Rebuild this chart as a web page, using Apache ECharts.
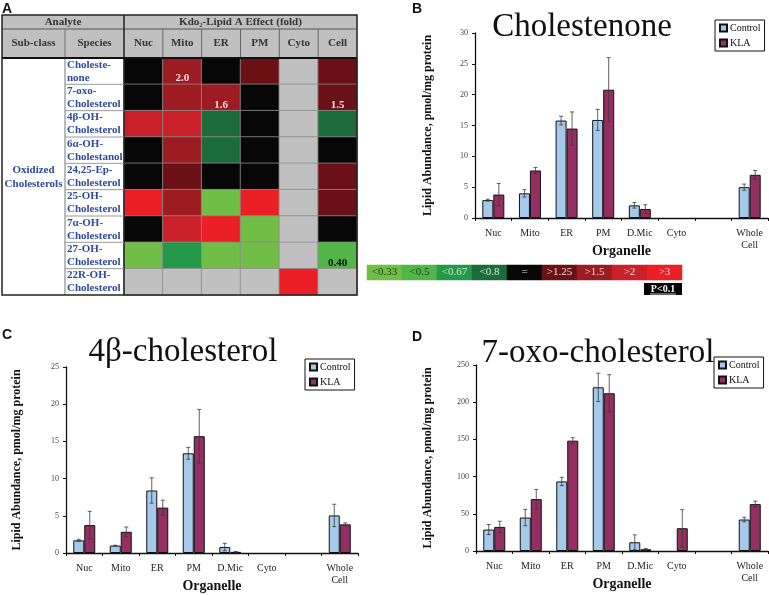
<!DOCTYPE html>
<html>
<head>
<meta charset="utf-8">
<script src="https://cdn.jsdelivr.net/npm/echarts@6/dist/echarts.min.js"></script>
<style>
  html, body { margin: 0; padding: 0; background: #fff; }
  #main { width: 769px; height: 595px; }
</style>
</head>
<body>
<div id="main"></div>
<script>
// ---- panel A: fold-change table ----
const fractions = ["Nuc", "Mito", "ER", "PM", "Cyto", "Cell"];
const species = [
  "Choleste-\nnone", "7-oxo-\nCholesterol", "4β-OH-\nCholesterol",
  "6α-OH-\nCholestanol", "24,25-Ep-\nCholesterol", "25-OH-\nCholesterol",
  "7α-OH-\nCholesterol", "27-OH-\nCholesterol", "22R-OH-\nCholesterol"
];
// fold class: -4 <0.33, -3 <0.5, -2 <0.67, -1 <0.8, 0 '=', 1 >1.25, 2 >1.5, 3 >2, 4 >3, null = n.d.
const foldClass = [
  [0, 2, 0, 1, null, 1],
  [0, 2, 2, 0, null, 1],
  [3, 3, -1, 0, null, -1],
  [0, 2, -1, 0, null, 0],
  [0, 1, 0, 0, null, 1],
  [4, 2, -4, 4, null, 1],
  [0, 3, 4, -4, null, 0],
  [-4, -2, -4, -4, null, -3],
  [null, null, null, null, 4, null]
];
// [row, col, text] significant folds printed in cells
const foldLabels = [[0, 1, "2.0"], [1, 2, "1.6"], [1, 5, "1.5"], [7, 5, "0.40"]];
const scaleClasses = [-4, -3, -2, -1, 0, 1, 2, 3, 4];
const scaleLabels = ["<0.33", "<0.5", "<0.67", "<0.8", "=", ">1.25", ">1.5", ">2", ">3"];

// ---- panels B-D: lipid abundance ----
const organelles = ["Nuc", "Mito", "ER", "PM", "D.Mic", "Cyto", "", "Whole\nCell"];
const cholestenoneControl = [2.9, 4.0, 15.8, 15.9, 2.05, null, null, 5.0];
const cholestenoneControlErr = [0.15, 0.6, 0.7, 1.7, 0.45, null, null, 0.5];
const cholestenoneKLA = [3.8, 7.7, 14.5, 20.8, 1.45, null, null, 7.0];
const cholestenoneKLAErr = [1.8, 0.5, 2.7, 5.2, 0.7, null, null, 0.7];

const oh4bControl = [1.7, 1.0, 8.4, 13.4, 0.8, null, null, 5.05];
const oh4bControlErr = [0.15, 0.05, 1.7, 0.8, 0.5, null, null, 1.5];
const oh4bKLA = [3.75, 2.85, 6.1, 15.7, 0.15, null, null, 3.85];
const oh4bKLAErr = [1.85, 0.65, 1.0, 3.6, 0.05, null, null, 0.2];

const oxo7Control = [28.8, 45, 93.5, 220, 11.7, null, null, 42.3];
const oxo7ControlErr = [6.7, 11, 5.5, 19, 10, null, null, 3];
const oxo7KLA = [32.4, 69.7, 148.3, 212, 2.3, 30.6, null, 63];
const oxo7KLAErr = [7.6, 13, 4, 25, 1, 25, null, 4];

const SERIF = "'Liberation Serif', 'DejaVu Serif', serif";
const BAR_W = 11;
const classColors = {
  "-4": "#70be45", "-3": "#52b548", "-2": "#229a4a", "-1": "#1c6c3b",
  "0": "#070707", "1": "#6b1014", "2": "#9d1c21", "3": "#c9202a", "4": "#ec1f26"
};
const NA_COLOR = "#c0c0c0";

// table geometry
const T = { left: 2, right: 357, top: 15, mid: 29, head: 58, bottom: 295, c1: 65, c2: 124 };
const rowH = (T.bottom - T.head) / species.length;

let myChart = echarts.init(document.getElementById("main"));

let heatData = [];
foldClass.forEach((row, r) => {
  row.forEach((c, k) => {
    let item = {
      value: [k, r, c == null ? 0 : c],
      itemStyle: { color: c == null ? NA_COLOR : classColors[c] },
    };
    let lab = foldLabels.find((l) => l[0] === r && l[1] === k);
    if (lab) {
      item.label = {
        show: true, formatter: lab[2], position: "insideBottom", distance: 1,
        color: c < 0 ? "#111" : "#f3dede", fontWeight: "bold", fontSize: 11, fontFamily: SERIF,
      };
    }
    heatData.push(item);
  });
});

let scaleData = scaleClasses.map((c, i) => ({
  value: [i, 0, c],
  itemStyle: { color: classColors[c] },
  label: { color: c <= -3 ? "#1e3d1c" : c < 0 ? "#d6e8d6" : "#f0d8d8" },
}));

function errorSeries(gridIdx, vals, errs, side) {
  return {
    type: "custom",
    xAxisIndex: gridIdx,
    yAxisIndex: gridIdx,
    z: 5,
    silent: true,
    encode: { x: 0, y: [1, 2] },
    data: vals
      .map((v, i) => (v == null ? null : [i, Math.max(0, v - errs[i]), v + errs[i]]))
      .filter(Boolean),
    renderItem(params, api) {
      let lo = api.coord([api.value(0), api.value(1)]);
      let hi = api.coord([api.value(0), api.value(2)]);
      let cx = lo[0] + (side * BAR_W) / 2;
      let st = { stroke: "#3a3a3a", lineWidth: 0.8 };
      return {
        type: "group",
        children: [
          { type: "line", shape: { x1: cx, y1: lo[1], x2: cx, y2: hi[1] }, style: st },
          { type: "line", shape: { x1: cx - 2, y1: hi[1], x2: cx + 2, y2: hi[1] }, style: st },
          { type: "line", shape: { x1: cx - 2, y1: lo[1], x2: cx + 2, y2: lo[1] }, style: st },
        ],
      };
    },
  };
}

function barAxes(gridIdx, max, interval, nameGap) {
  return {
    x: {
      type: "category", gridIndex: gridIdx, data: organelles,
      axisLine: { lineStyle: { color: "#111", width: 1.3 } },
      axisTick: { show: true, length: 3, lineStyle: { color: "#111" } },
      axisLabel: { interval: 0, fontSize: 10, color: "#222", fontFamily: SERIF, margin: 9, lineHeight: 12 },
      name: "Organelle", nameLocation: "middle", nameGap: 26, nameMoveOverlap: false,
      nameTextStyle: { fontSize: 14, fontWeight: "bold", fontFamily: SERIF, color: "#111" },
    },
    y: {
      type: "value", gridIndex: gridIdx, min: 0, max: max, interval: interval,
      axisLine: { show: true, lineStyle: { color: "#111", width: 1.3 } },
      axisTick: { show: true, length: 3, lineStyle: { color: "#111" } },
      splitLine: { show: false },
      axisLabel: { fontSize: 8, color: "#444", fontFamily: SERIF, margin: 7 },
      name: "Lipid Abundance, pmol/mg protein", nameLocation: "middle", nameGap: nameGap,
      nameMoveOverlap: false,
      nameTextStyle: { fontSize: 12, fontWeight: "bold", fontFamily: SERIF, color: "#111" },
    },
  };
}

function barSeries(gridIdx, ctl, ctlErr, kla, klaErr) {
  let common = { type: "bar", xAxisIndex: gridIdx, yAxisIndex: gridIdx, barWidth: BAR_W, barGap: "0%" };
  return [
    Object.assign({ name: "Control", data: ctl, itemStyle: { color: "#a5c9ea", borderColor: "#111", borderWidth: 1 } }, common),
    Object.assign({ name: "KLA", data: kla, itemStyle: { color: "#952f62", borderColor: "#111", borderWidth: 1 } }, common),
    errorSeries(gridIdx, ctl, ctlErr, -1),
    errorSeries(gridIdx, kla, klaErr, 1),
  ];
}

function boxLegend(left, top) {
  return {
    data: ["Control", "KLA"], orient: "vertical", left: left, top: top,
    icon: "rect", itemWidth: 7, itemHeight: 7, itemGap: 5,
    padding: [3, 4, 3, 4], borderColor: "#111", borderWidth: 1,
    textStyle: { fontSize: 10, fontFamily: SERIF, color: "#111", padding: [0, 0, 0, -2] },
    selectedMode: false,
  };
}

let axB = barAxes(1, 30, 5, 41),
  axC = barAxes(2, 25, 5, 43),
  axD = barAxes(3, 250, 50, 42);

let headText = { fontSize: 11, fontWeight: "bold", fontFamily: SERIF, fill: "#333", align: "center", verticalAlign: "middle" };
let rowLines = species.slice(1).map((s, i) => ({
  type: "line", z: 10,
  shape: { x1: T.c1, y1: T.head + (i + 1) * rowH, x2: T.c2, y2: T.head + (i + 1) * rowH },
  style: { stroke: "#9a9a9a", lineWidth: 1 },
}));

myChart.setOption({
  animation: false,
  textStyle: { fontFamily: SERIF },
  grid: [
    { left: T.c2, top: T.head, width: T.right - T.c2, height: T.bottom - T.head, outerBoundsMode: "none" },
    { left: 475, top: 33, width: 293, height: 185, outerBoundsMode: "none" },
    { left: 66, top: 367, width: 292, height: 186, outerBoundsMode: "none" },
    { left: 476, top: 365, width: 292, height: 186, outerBoundsMode: "none" },
    { left: 367, top: 265, width: 315, height: 15, outerBoundsMode: "none" },
  ],
  xAxis: [
    {
      type: "category", gridIndex: 0, data: fractions, position: "top",
      axisLine: { show: false }, axisTick: { show: false },
      axisLabel: { fontSize: 11, fontWeight: "bold", color: "#333", fontFamily: SERIF, margin: 9 },
    },
    axB.x, axC.x, axD.x,
    { type: "category", gridIndex: 4, data: scaleLabels, show: false },
  ],
  yAxis: [
    {
      type: "category", gridIndex: 0, data: species, inverse: true,
      axisLine: { show: false }, axisTick: { show: false },
      axisLabel: {
        align: "left", margin: T.c2 - T.c1 - 2, fontSize: 11, lineHeight: 13,
        fontWeight: "bold", color: "#2e4a9c", fontFamily: SERIF,
      },
    },
    axB.y, axC.y, axD.y,
    { type: "category", gridIndex: 4, data: [""], show: false },
  ],
  legend: [boxLegend(715, 20), boxLegend(305, 359), boxLegend(714, 357)],
  series: [
    {
      type: "heatmap", xAxisIndex: 0, yAxisIndex: 0, data: heatData,
      itemStyle: { borderColor: "#8c8c8c", borderWidth: 0.8 },
      label: { show: false }, emphasis: { disabled: true },
    },
    {
      type: "heatmap", xAxisIndex: 4, yAxisIndex: 4, data: scaleData,
      label: {
        show: true, fontSize: 11, fontFamily: SERIF,
        formatter: (p) => scaleLabels[p.dataIndex],
      },
      emphasis: { disabled: true },
    },
    ...barSeries(1, cholestenoneControl, cholestenoneControlErr, cholestenoneKLA, cholestenoneKLAErr),
    ...barSeries(2, oh4bControl, oh4bControlErr, oh4bKLA, oh4bKLAErr),
    ...barSeries(3, oxo7Control, oxo7ControlErr, oxo7KLA, oxo7KLAErr),
  ],
  graphic: [
    // table frame
    { type: "rect", z: 0, shape: { x: T.left, y: T.top, width: T.right - T.left, height: T.head - T.top }, style: { fill: "#c0c0c0" } },
    { type: "line", z: 10, shape: { x1: T.left, y1: T.mid, x2: T.right, y2: T.mid }, style: { stroke: "#555", lineWidth: 1 } },
    { type: "line", z: 10, shape: { x1: T.c1, y1: T.mid, x2: T.c1, y2: T.bottom }, style: { stroke: "#777", lineWidth: 1 } },
    { type: "line", z: 10, shape: { x1: T.c2, y1: T.top, x2: T.c2, y2: T.bottom }, style: { stroke: "#222", lineWidth: 1.5 } },
    ...fractions.slice(1).map((f, i) => {
      let x = T.c2 + ((i + 1) * (T.right - T.c2)) / fractions.length;
      return { type: "line", z: 10, shape: { x1: x, y1: T.mid, x2: x, y2: T.head }, style: { stroke: "#666", lineWidth: 1 } };
    }),
    ...rowLines,
    { type: "line", z: 10, shape: { x1: T.left, y1: T.head, x2: T.right, y2: T.head }, style: { stroke: "#111", lineWidth: 2 } },
    { type: "rect", z: 11, shape: { x: T.left, y: T.top, width: T.right - T.left, height: T.bottom - T.top }, style: { fill: null, stroke: "#222", lineWidth: 1.5 } },
    { type: "text", z: 12, x: (T.left + T.c2) / 2, y: (T.top + T.mid) / 2, style: Object.assign({ text: "Analyte" }, headText) },
    { type: "text", z: 12, x: (T.c2 + T.right) / 2, y: (T.top + T.mid) / 2, style: Object.assign({ text: "Kdo₂-Lipid A Effect (fold)" }, headText) },
    { type: "text", z: 12, x: (T.left + T.c1) / 2, y: (T.mid + T.head) / 2, style: Object.assign({ text: "Sub-class" }, headText) },
    { type: "text", z: 12, x: (T.c1 + T.c2) / 2, y: (T.mid + T.head) / 2, style: Object.assign({ text: "Species" }, headText) },
    {
      type: "text", z: 12, x: (T.left + T.c1) / 2, y: 177,
      style: { text: "Oxidized\nCholesterols", fontSize: 11, lineHeight: 14, fontWeight: "bold", fontFamily: SERIF, fill: "#2e4a9c", align: "center", verticalAlign: "middle" },
    },
    // significance key
    { type: "rect", z: 10, shape: { x: 644, y: 283, width: 38, height: 12 }, style: { fill: "#000" } },
    { type: "text", z: 12, x: 663, y: 289, style: { text: "P<0.1", fontSize: 10, fontWeight: "bold", fontFamily: SERIF, fill: "#fff", align: "center", verticalAlign: "middle" } },
    { type: "line", z: 12, shape: { x1: 650, y1: 294, x2: 676, y2: 294 }, style: { stroke: "#fff", lineWidth: 0.8 } },
    // panel letters
    { type: "text", x: 2, y: 2, style: { text: "A", fontSize: 14, fontWeight: "bold", fontFamily: "Arial, 'Liberation Sans', sans-serif", fill: "#111" } },
    { type: "text", x: 412, y: 2, style: { text: "B", fontSize: 14, fontWeight: "bold", fontFamily: "Arial, 'Liberation Sans', sans-serif", fill: "#111" } },
    { type: "text", x: 2, y: 328, style: { text: "C", fontSize: 14, fontWeight: "bold", fontFamily: "Arial, 'Liberation Sans', sans-serif", fill: "#111" } },
    { type: "text", x: 412, y: 330, style: { text: "D", fontSize: 14, fontWeight: "bold", fontFamily: "Arial, 'Liberation Sans', sans-serif", fill: "#111" } },
    // panel titles
    { type: "text", z: 12, x: 582, y: 27, style: { text: "Cholestenone", fontSize: 33, fontFamily: SERIF, fill: "#111", align: "center", verticalAlign: "middle" } },
    { type: "text", z: 12, x: 183, y: 352, style: { text: "4β-cholesterol", fontSize: 33, fontFamily: SERIF, fill: "#111", align: "center", verticalAlign: "middle" } },
    { type: "text", z: 12, x: 598, y: 353, style: { text: "7-oxo-cholesterol", fontSize: 33, fontFamily: SERIF, fill: "#111", align: "center", verticalAlign: "middle" } },
  ],
});
</script>
</body>
</html>
